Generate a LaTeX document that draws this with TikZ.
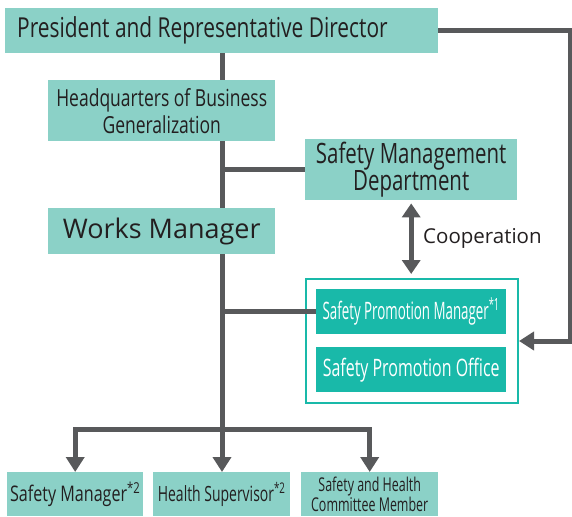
\documentclass[tikz,border=0pt]{standalone}
\usepackage{fontspec}
\setmainfont{Open Sans}
\usetikzlibrary{arrows.meta,positioning,backgrounds}

% condensed face: stretch, size, line skip
\newcommand\condfont[3]{\fontspec{Open Sans}[FakeStretch=#1]\fontsize{#2}{#3}\selectfont}

\definecolor{boxlight}{HTML}{8BD1C7}
\definecolor{boxdark}{HTML}{19B9A9}
\definecolor{linegray}{HTML}{58595B}
\definecolor{textgray}{HTML}{231F20}

\tikzset{
  orgbox/.style={fill=boxlight, text=textgray, inner sep=0pt, anchor=north west, align=center},
  unitbox/.style={fill=boxdark, text=white, inner sep=0pt, anchor=north west, align=center},
  link/.style={draw=linegray, line width=5pt},
  flow/.style={link, -{Triangle[width=18pt,length=15pt]}},
  both/.style={link, {Triangle[width=18pt,length=14pt]}-{Triangle[width=18pt,length=14pt]}},
}

\begin{document}
\begin{tikzpicture}[x=1pt,y=-1pt]
    \useasboundingbox (0,0) rectangle (572,516);

    % Top of the chart
    \node[orgbox, minimum width=433pt, minimum height=45pt,
          font=\condfont{0.76}{27.5}{30}] (pres) at (5,8)
          {\makebox[409pt][l]{President and Representative Director}};
    \node[orgbox, minimum width=227pt, minimum height=61pt,
          font=\condfont{0.745}{23.5}{27}] (hq) at (48,80)
          {Headquarters of Business\\Generalization};
    \node[orgbox, minimum width=212pt, minimum height=61pt,
          font=\condfont{0.73}{28}{27}] (smd) at (305,139)
          {Safety Management\\Department};
    \node[orgbox, minimum width=227pt, minimum height=46pt,
          font=\fontsize{27}{30}\selectfont] (wm) at (48,208)
          {Works Manager};

    % Safety promotion group
    \node[unitbox, minimum width=190pt, minimum height=45pt,
          font=\condfont{0.555}{24}{26}] (spm) at (316,289)
          {Safety Promotion Manager\textsuperscript{*1}};
    \node[unitbox, minimum width=190pt, minimum height=45pt,
          font=\condfont{0.665}{24}{26}] (spo) at (316,347)
          {Safety Promotion Office};
    \node[anchor=west, inner sep=0pt, text=textgray,
          font=\fontsize{20.5}{24}\selectfont] (coop) at (423,238) {Cooperation};

    % Bottom row
    \node[orgbox, minimum width=136pt, minimum height=44pt,
          font=\condfont{0.75}{21.5}{24}] (sm) at (7,472)
          {Safety Manager\textsuperscript{*2}};
    \node[orgbox, minimum width=137pt, minimum height=44pt,
          font=\condfont{0.665}{21}{24}] (hs) at (153,472)
          {Health Supervisor\textsuperscript{*2}};
    \node[orgbox, minimum width=137pt, minimum height=44pt,
          font=\condfont{0.655}{19}{20}] (shc) at (301,472)
          {Safety and Health\\Committee Member};

    % Connectors
    \begin{scope}[on background layer]
        \node[draw=boxdark, line width=2pt, inner sep=0pt, anchor=north west,
              minimum width=212pt, minimum height=124pt] (promo) at (305,278) {};
        \coordinate (fork) at (222,429);
        \coordinate (turn) at (570,341);
        \draw[link] (pres.south -| fork) -- (fork);
        \draw[link] (smd.west) -- (smd.west -| fork);
        \draw[link] (spm.west) -- (spm.west -| fork);
        \draw[flow] (fork) -| (sm.north);
        \draw[flow] (fork) -- (hs.north -| fork);
        \draw[flow] (fork) -| (shc.north);
        \draw[flow] (pres.east) -| (turn) -- (turn -| promo.east);
        \draw[both, shorten <=3pt, shorten >=4pt] (smd.south) -- (promo.north -| smd.south);
    \end{scope}
\end{tikzpicture}
\end{document}
